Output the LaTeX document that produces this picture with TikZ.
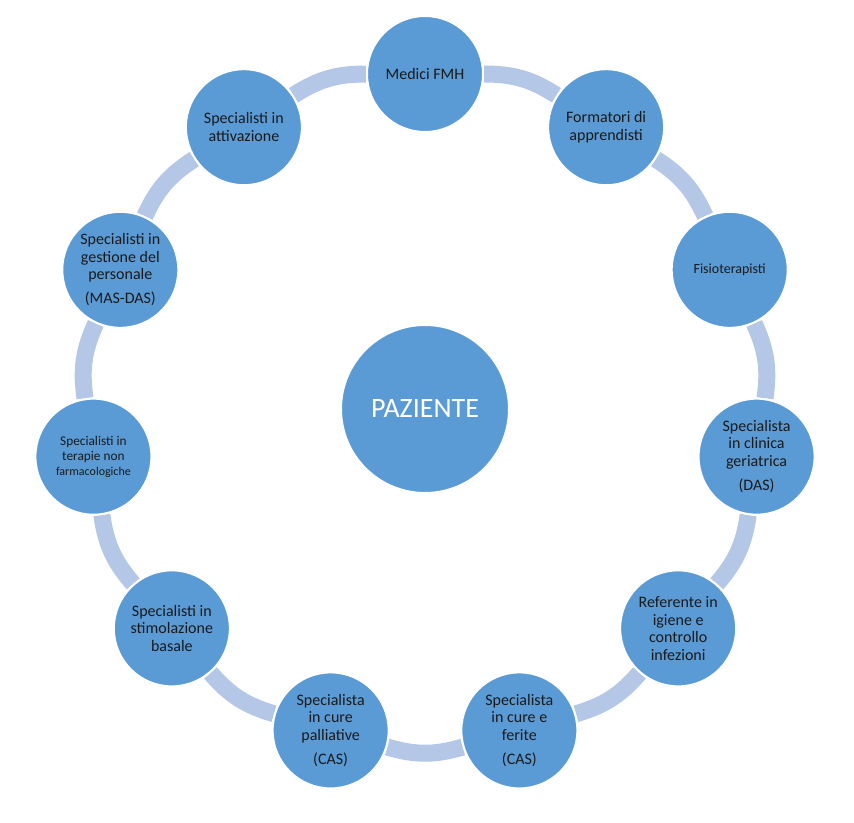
\documentclass[tikz,border=0pt]{standalone}
\usepackage{fontspec}
\setmainfont{Carlito}
\usetikzlibrary{backgrounds,calc}

\definecolor{bubbleblue}{HTML}{5B9BD5}
\definecolor{ringblue}{HTML}{B4C7E7}
\definecolor{textdark}{HTML}{1A1A1A}

\begin{document}
\begin{tikzpicture}[x=0.75pt, y=0.75pt,
    bubble/.style = {circle, fill=bubbleblue, draw=white, line width=1.5pt,
                     minimum size=87pt, inner sep=0pt, align=center,
                     text=textdark, font=\fontsize{12}{13.2}\selectfont},
    hub/.style    = {bubble, minimum size=126pt, text=white,
                     font=\fontsize{21}{24}\selectfont},
    ring/.style   = {draw=ringblue, line width=12.75pt, bend left=16.36}]
        \useasboundingbox (0,0) rectangle (854,822);
        \coordinate (c) at (425,413);

        \node[hub] (pat) at (c) {PAZIENTE};

        \node[bubble] (fmh)  at ($(c)+(90:335)$) {Medici FMH};
        \node[bubble] (form) at ($(c)+(57.27:335)$) {Formatori di\\apprendisti};
        \node[bubble, font=\fontsize{10.5}{12}\selectfont] (fisio) at ($(c)+(24.55:335)$) {Fisioterapisti};
        \node[bubble] (ger)  at ($(c)+(-8.18:335)$) {Specialista\\in clinica\\geriatrica\\[5pt](DAS)};
        \node[bubble] (igi)  at ($(c)+(-40.91:335)$) {Referente in\\igiene e\\controllo\\infezioni};
        \node[bubble] (fer)  at ($(c)+(-73.64:335)$) {Specialista\\in cure e\\ferite\\[5pt](CAS)};
        \node[bubble] (pal)  at ($(c)+(-106.36:335)$) {Specialista\\in cure\\palliative\\[5pt](CAS)};
        \node[bubble] (stim) at ($(c)+(-139.09:335)$) {Specialisti in\\stimolazione\\basale};
        \node[bubble, font=\fontsize{10}{11.2}\selectfont] (ter) at ($(c)+(-171.82:335)$) {Specialisti in\\terapie non\\{\fontsize{9}{11}\selectfont farmacologiche}};
        \node[bubble] (pers) at ($(c)+(155.45:335)$) {Specialisti in\\gestione del\\personale\\[5pt](MAS-DAS)};
        \node[bubble] (att)  at ($(c)+(122.73:335)$) {Specialisti in\\attivazione};

        % ring between the bubbles
        \begin{scope}[on background layer]
        \draw[ring] (fmh) to (form);
        \draw[ring] (form) to (fisio);
        \draw[ring] (fisio) to (ger);
        \draw[ring] (ger) to (igi);
        \draw[ring] (igi) to (fer);
        \draw[ring] (fer) to (pal);
        \draw[ring] (pal) to (stim);
        \draw[ring] (stim) to (ter);
        \draw[ring] (ter) to (pers);
        \draw[ring] (pers) to (att);
        \draw[ring] (att) to (fmh);
        \end{scope}
    \end{tikzpicture}
\end{document}
